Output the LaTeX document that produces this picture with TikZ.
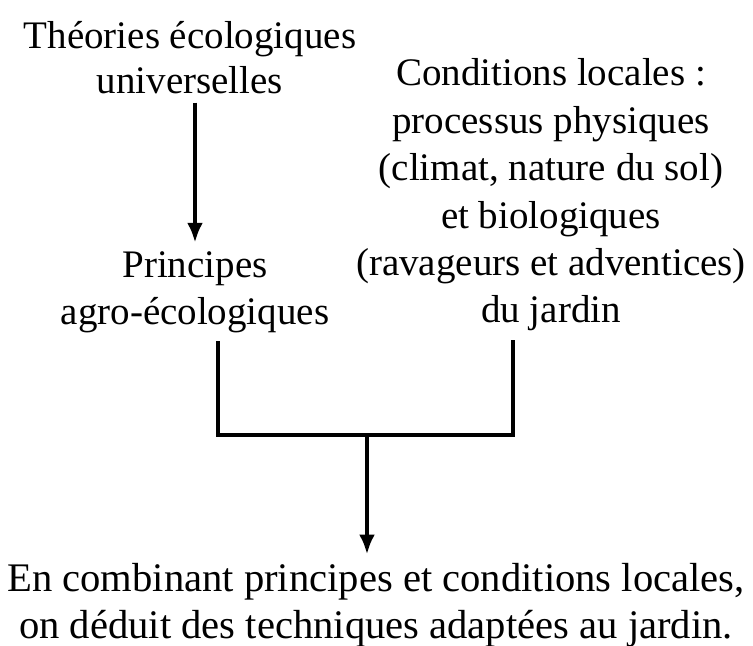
\documentclass[tikz,border=0pt]{standalone}
\usepackage{fontspec}
\setmainfont{Liberation Serif}
\usetikzlibrary{arrows.meta,positioning}

\tikzset{
  label text/.style={align=center, inner sep=4pt, font=\fontsize{19.5}{23.7}\selectfont},
  link/.style={line width=2pt},
  flow/.style={link, -{Latex[length=10pt,width=8pt]}}
}

\begin{document}
\begin{tikzpicture}[x=0.5pt,y=-0.5pt]
  \useasboundingbox (0,0) rectangle (753,645);
  % the three blocks of text
  \node[label text, font=\fontsize{19.5}{22.5}\selectfont] (theo) at (190,58) {Théories écologiques\\universelles};
  \node[label text] (princ) at (195,292) {Principes\\agro-écologiques};
  \node[label text] (cond) at (551,195) {Conditions locales :\\processus physiques\\(climat, nature du sol)\\et biologiques\\(ravageurs et adventices)\\du jardin};
  \node[label text, font=\fontsize{20.3}{23.7}\selectfont] (result) at (376,605) {En combinant principes et conditions locales,\\on déduit des techniques adaptées au jardin.};
  % junction points
  \coordinate (jl) at (218,435);
  \coordinate (jr) at (513,435);
  \coordinate (jm) at (367,435);
  \draw[flow] (theo.south -| princ) -- (princ);
  \draw[link] (princ.south -| jl) -- (jl) -- (jr) -- (cond.south -| jr);
  \draw[flow] (jm) -- (result.north -| jm);
\end{tikzpicture}
\end{document}
